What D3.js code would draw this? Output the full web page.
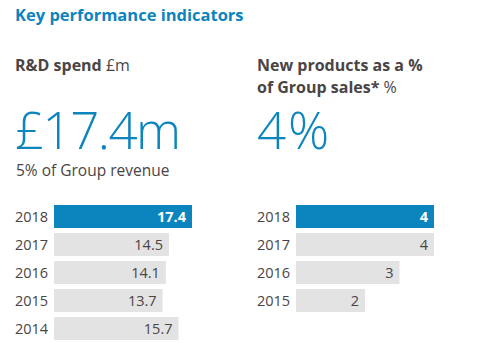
<!DOCTYPE html>
<html>
<head>
<meta charset="utf-8">
<script src="https://cdn.jsdelivr.net/npm/d3@7"></script>
<style>
  body { margin: 0; background: #fff; }
  svg { display: block; font-family: "Open Sans", sans-serif; }
</style>
</head>
<body>
<svg id="chart" width="490" height="352"></svg>
<script>
// data
const rdYears = ['2018', '2017', '2016', '2015', '2014'];
const rdSpend = [17.4, 14.5, 14.1, 13.7, 15.7];
const npYears = ['2018', '2017', '2016', '2015'];
const npShare = [4, 4, 3, 2];

const blue = '#0c84bd',
      grey = '#e3e3e3',
      ink = '#4a4545';

const svg = d3.select('#chart');

svg.append('text')
   .attr('x', 15).attr('y', 21)
   .attr('fill', blue)
   .style('font-size', '16.5px')
   .style('font-weight', 700)
   .text('Key performance indicators');

// one KPI panel: heading, big number, optional sub line, bar list
function panel(x0, heading, unit, big, bigSpacing, sub, years, values, fmt) {
	const g = svg.append('g').attr('transform', `translate(${x0},0)`);

	const head = g.append('text')
	              .attr('y', 71)
	              .attr('fill', ink)
	              .style('font-size', '16px');
	heading.forEach((line, i) => {
		const t = head.append('tspan').attr('x', 0).attr('dy', i ? 22 : 0);
		t.append('tspan').style('font-weight', 700).text(line);
		if (i === heading.length - 1) t.append('tspan').text(' ' + unit);
	});

	g.append('text')
	 .attr('x', 0).attr('y', 149)
	 .attr('fill', blue)
	 .style('font-size', '51px')
	 .style('font-weight', 300)
	 .style('letter-spacing', bigSpacing + 'px')
	 .text(big);

	if (sub) {
		g.append('text')
		 .attr('x', 1).attr('y', 176)
		 .attr('fill', ink)
		 .style('font-size', '15.5px')
		 .text(sub);
	}

	const y = d3.scaleBand()
	            .domain(years)
	            .range([205, 205 + 28 * years.length - 5])
	            .paddingInner(5 / 28)
	            .paddingOuter(0);

	const x = d3.scaleLinear()
	            .domain([0, d3.max(values)])
	            .range([39, 39 + 138]);

	const rows = g.selectAll('g.row')
	              .data(years.map((yr, i) => ({ yr, v: values[i], i })))
	              .enter()
	              .append('g')
	              .attr('class', 'row');

	rows.append('rect')
	    .attr('x', x(0))
	    .attr('y', d => y(d.yr))
	    .attr('width', d => x(d.v) - x(0))
	    .attr('height', y.bandwidth())
	    .attr('fill', d => d.i === 0 ? blue : grey);

	rows.append('text')
	    .attr('x', 0)
	    .attr('y', d => y(d.yr) + y.bandwidth() / 2 + 5.5)
	    .attr('fill', ink)
	    .style('font-size', '14.5px')
	    .text(d => d.yr);

	rows.append('text')
	    .attr('x', d => x(d.v) - 6)
	    .attr('y', d => y(d.yr) + y.bandwidth() / 2 + 5.5)
	    .attr('text-anchor', 'end')
	    .attr('fill', d => d.i === 0 ? '#fff' : ink)
	    .style('font-size', '14.5px')
	    .style('font-weight', d => d.i === 0 ? 700 : 400)
	    .text(d => fmt(d.v));
}

panel(15, ['R&D spend'], '£m', '£17.4m', -1.5, '5% of Group revenue',
      rdYears, rdSpend, d3.format('.1f'));
panel(257, ['New products as a %', 'of Group sales*'], '%', '4%', 2, null,
      npYears, npShare, d3.format('d'));
</script>
</body>
</html>
